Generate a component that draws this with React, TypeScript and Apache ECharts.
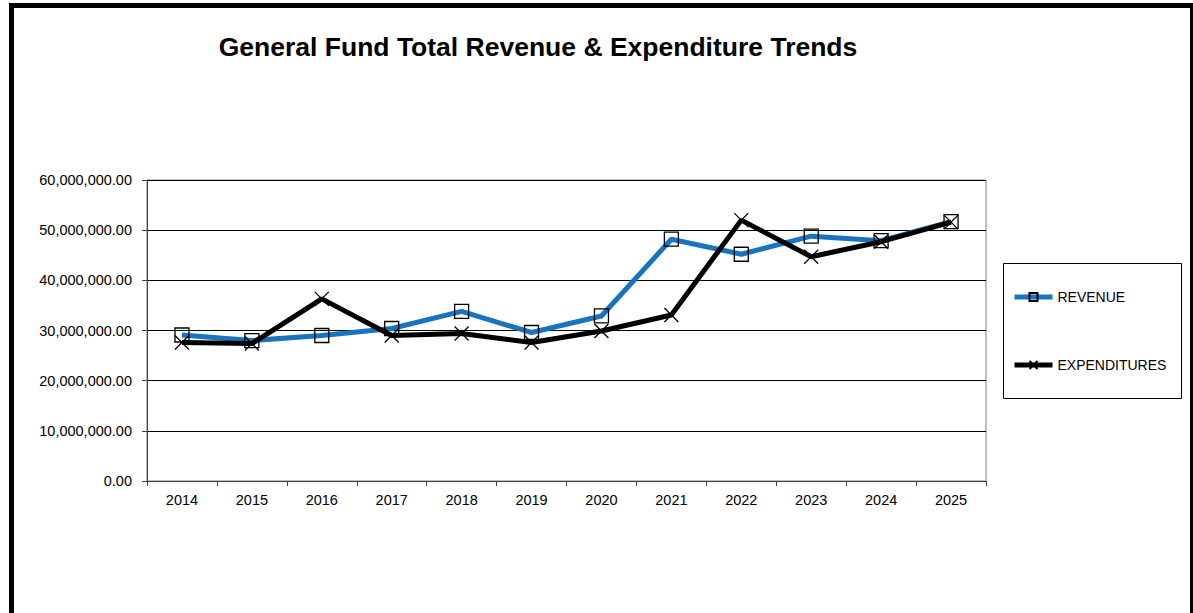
import React, { useEffect, useRef } from "react";
import * as echarts from "echarts";

const titleText = "General Fund Total Revenue & Expenditure Trends";
const years = ["2014", "2015", "2016", "2017", "2018", "2019", "2020", "2021", "2022", "2023", "2024", "2025"];
const revenue = [29.1, 28.0, 29.0, 30.4, 33.8, 29.6, 32.9, 48.2, 45.2, 48.8, 47.9, 51.7].map((v) => v * 1e6);
const expenditures = [27.6, 27.4, 36.3, 29.0, 29.4, 27.6, 29.9, 33.1, 52.0, 44.7, 47.7, 51.6].map((v) => v * 1e6);
const seriesNames = ["REVENUE", "EXPENDITURES"];

const FONT = "'Liberation Sans', Arial, sans-serif";

export default function App() {
  const ref = useRef<HTMLDivElement>(null);
  useEffect(() => {
    if (!ref.current) return;
    const chart = echarts.init(ref.current, undefined, { renderer: "svg" });
    chart.setOption({
      animation: false,
      backgroundColor: "#ffffff",
      title: {
        text: titleText,
        left: 533,
        top: 28,
        textAlign: "center",
        textStyle: { fontFamily: FONT, fontSize: 26.5, fontWeight: "bold", color: "#000" },
      },
      grid: {
        left: 147,
        right: 207,
        top: 180,
        bottom: 132,
        show: true,
        borderColor: "#808080",
        borderWidth: 1,
        backgroundColor: "transparent",
      },
      legend: {
        orient: "vertical",
        left: 1012,
        top: 290,
        padding: 0,
        itemWidth: 38,
        itemHeight: 10,
        itemGap: 54,
        lineStyle: { width: 5 },
        textStyle: { fontFamily: FONT, fontSize: 14, color: "#000" },
        data: seriesNames,
      },
      xAxis: {
        type: "category",
        data: years,
        boundaryGap: true,
        axisLine: { lineStyle: { color: "#404040", width: 1 } },
        axisTick: { show: true, length: 5, alignWithLabel: false, lineStyle: { color: "#404040" } },
        axisLabel: { fontFamily: FONT, fontSize: 14.5, color: "#000", margin: 11 },
        splitLine: { show: false },
      },
      yAxis: {
        type: "value",
        min: 0,
        max: 60000000,
        interval: 10000000,
        axisLine: { show: true, lineStyle: { color: "#404040", width: 1 } },
        axisTick: { show: true, length: 5, lineStyle: { color: "#404040" } },
        axisLabel: {
          fontFamily: FONT,
          fontSize: 14.5,
          color: "#000",
          margin: 15,
          formatter: (v: number) =>
            v.toLocaleString("en-US", { minimumFractionDigits: 2, maximumFractionDigits: 2 }),
        },
        splitLine: { show: true, lineStyle: { color: "#000", width: 1 } },
      },
      graphic: [
        {
          type: "rect",
          shape: { x: 11.5, y: 5.5, width: 1181, height: 650 },
          style: { fill: "none", stroke: "#000", lineWidth: 5 },
          silent: true,
          z: 100,
        },
        {
          type: "rect",
          shape: { x: 1003.5, y: 263.5, width: 178, height: 135 },
          style: { fill: "none", stroke: "#000", lineWidth: 1 },
          silent: true,
        },
      ],
      series: [
        {
          name: seriesNames[0],
          type: "line",
          data: revenue,
          symbol: "rect",
          symbolSize: 14,
          lineStyle: { color: "#1874C1", width: 5 },
          itemStyle: { color: "rgba(0,0,0,0)", borderColor: "#000", borderWidth: 1.3 },
          z: 2,
        },
        {
          name: seriesNames[1],
          type: "line",
          data: expenditures,
          symbol: "path://M0,0L10,10M10,0L0,10",
          symbolSize: 14,
          lineStyle: { color: "#000", width: 5 },
          itemStyle: { color: "none", borderColor: "#000", borderWidth: 1.3 },
          z: 3,
        },
      ],
    });
    return () => chart.dispose();
  }, []);
  return (
    <div
      ref={ref}
      style={{ position: "fixed", left: 0, top: 0, width: 1193, height: 613 }}
    />
  );
}
